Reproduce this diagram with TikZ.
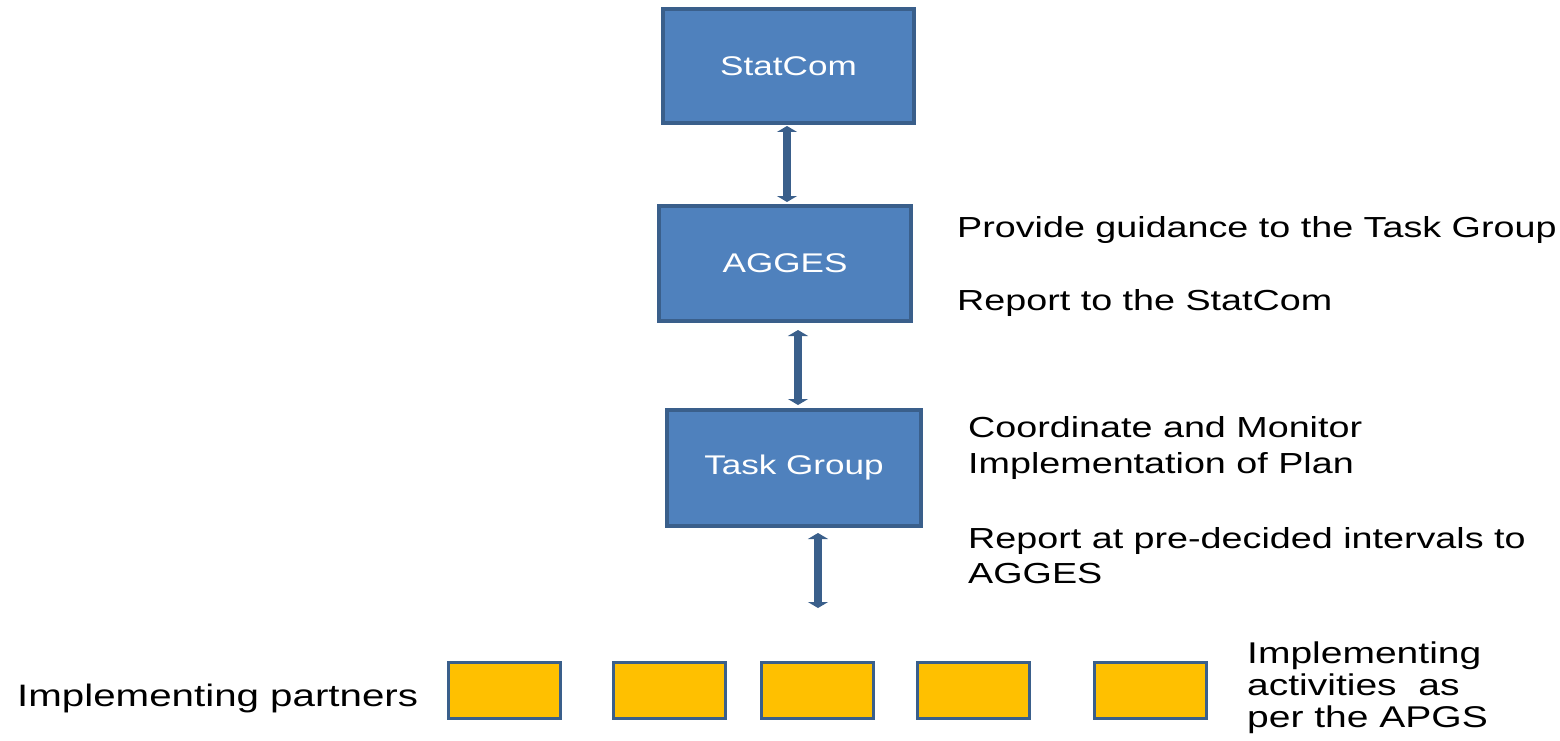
\documentclass[tikz,border=0pt]{standalone}
\usepackage{fontspec}
\setmainfont{Liberation Sans}
\newfontfamily\lblfont[FakeStretch=1.3]{Liberation Sans}
\usetikzlibrary{arrows.meta}
\definecolor{boxblue}{HTML}{4F81BD}
\definecolor{edgeblue}{HTML}{3A5F8B}
\definecolor{gold}{HTML}{FFC000}
\tikzset{
  bluebox/.style={draw=edgeblue, fill=boxblue, line width=4pt, inner sep=0pt, outer sep=0pt,
    text=white, font=\lblfont\fontsize{27}{32}\selectfont},
  goldbox/.style={draw=edgeblue, fill=gold, line width=3pt, inner sep=0pt, outer sep=0pt,
    minimum width=112pt, minimum height=56pt},
  desc/.style={anchor=base west, inner sep=0pt, text=black, font=\lblfont\fontsize{29}{34}\selectfont},
  link/.style={draw=edgeblue, line width=8.5pt, {Triangle[width=20pt,length=6pt]}-{Triangle[width=20pt,length=6pt]}},
}
\begin{document}
\begin{tikzpicture}[x=1pt,y=-1pt]
\useasboundingbox (0,0) rectangle (1560,741);
% main boxes
\node[bluebox, minimum width=251pt, minimum height=114pt] (statcom) at (788.5,66) {StatCom};
\node[bluebox, minimum width=252pt, minimum height=115pt] (agges) at (785,263.5) {AGGES};
\node[bluebox, minimum width=254pt, minimum height=116pt] (task) at (794,468) {Task Group};
% implementing partner boxes
\node[goldbox] (p1) at (504,690.5) {};
\node[goldbox] (p2) at (669.5,690.5) {};
\node[goldbox] (p3) at (817,690.5) {};
\node[goldbox] (p4) at (973,690.5) {};
\node[goldbox] (p5) at (1150.5,690.5) {};
% connectors
\draw[link, shorten <=3pt, shorten >=4pt] ([xshift=-1.5pt]statcom.south) -- ([xshift=2pt]agges.north);
\draw[link, shorten <=9pt, shorten >=5pt] ([xshift=13pt]agges.south) -- ([xshift=4pt]task.north);
\coordinate (tgend) at (818,608);
\draw[link, shorten <=7pt] ([xshift=24pt]task.south) -- (tgend);
% descriptions
\node[desc] (d1) at (957,237) {Provide guidance to the Task Group};
\node[desc] (d2) at (957,310) {Report to the StatCom};
\node[desc] (d3) at (968,437) {Coordinate and Monitor};
\node[desc] (d4) at (968,473) {Implementation of Plan};
\node[desc] (d5) at (968,548) {Report at pre-decided intervals to};
\node[desc] (d6) at (968,583) {AGGES};
\node[desc, font=\lblfont\fontsize{31}{36}\selectfont] (ip) at (17,706) {Implementing partners};
\node[desc, font=\lblfont\fontsize{30}{34}\selectfont] (r1) at (1247,663) {Implementing};
\node[desc, font=\lblfont\fontsize{30}{34}\selectfont] (r2) at (1247,695) {activities\ \ as};
\node[desc, font=\lblfont\fontsize{30}{34}\selectfont] (r3) at (1247,727) {per the APGS};
\end{tikzpicture}
\end{document}
